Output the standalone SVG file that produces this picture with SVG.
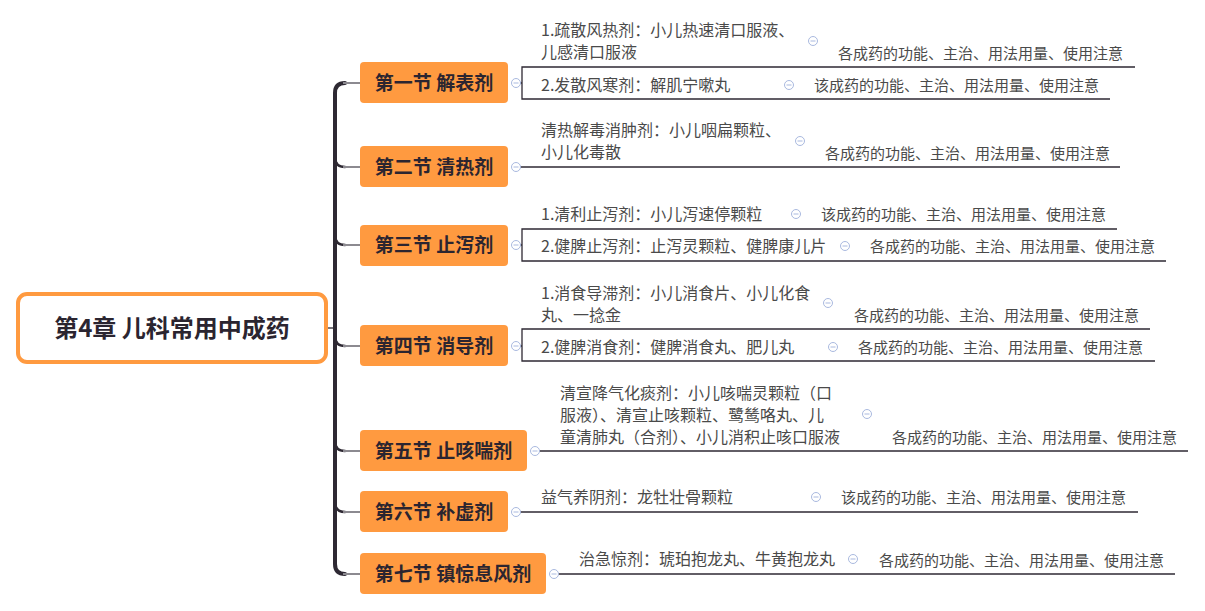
<svg xmlns="http://www.w3.org/2000/svg" width="1205" height="611" viewBox="0 0 1205 611">
<style>
.root{fill:#fff;stroke:#ff9a40;stroke-width:4}
.rt{font-family:"Noto Sans CJK SC","Noto Sans",sans-serif;font-weight:bold;font-size:24px;fill:#2b2530}
.sec{fill:#ff9a40}
.st{font-family:"Noto Sans CJK SC","Noto Sans",sans-serif;font-weight:bold;font-size:19px;fill:#2b2530;text-anchor:middle}
.ct{font-family:"Noto Sans CJK SC","Noto Sans",sans-serif;font-size:16px;fill:#4a4a4a}
.gt{font-family:"Noto Sans CJK SC","Noto Sans",sans-serif;font-size:15px;fill:#4a4a4a}
.trunk{fill:none;stroke:#2e2933;stroke-width:4;stroke-linecap:round}
.br{fill:none;stroke:#8c8a90;stroke-width:2}
.ul{fill:none;stroke:#2e2933;stroke-width:1.3}
</style>
<defs>
<g id="col"><circle r="4.5" fill="#ffffff" stroke="#a9b9df" stroke-width="1"/><line x1="-2.5" y1="0" x2="2.5" y2="0" stroke="#a9b9df" stroke-width="1"/></g>
</defs>
<g id="connectors">
<line x1="327" y1="328" x2="335" y2="328" class="ul"/>
<path class="trunk" d="M 345 83 Q 335 83 335 93 V 564 Q 335 574 345 574"/>
<path class="trunk" style="stroke-width:2.5" d="M 335 157 Q 335 167 345 167 M 335 235 Q 335 245 345 245 M 335 336 Q 335 346 345 346 M 335 441 Q 335 451 345 451 M 335 502 Q 335 512 345 512"/>
<path class="br" d="M 343 83 H 360 M 343 167 H 360 M 343 245 H 360 M 343 346 H 360 M 343 451 H 360 M 343 512 H 360 M 343 574 H 360"/>
<path class="ul" d="M 516 83 H 522 M 1135 67 H 522 V 99 H 1110"/>
<path class="ul" d="M 516 167 H 1120"/>
<path class="ul" d="M 516 245 H 522 M 1117 229 H 522 V 261 H 1166"/>
<path class="ul" d="M 516 346 H 522 M 1150 329 H 522 V 361 H 1155"/>
<path class="ul" d="M 535 451 H 1188"/>
<path class="ul" d="M 516 512 H 1138"/>
<path class="ul" d="M 554 574 H 1175"/>
</g>
<g id="root">
<rect class="root" x="18" y="294" width="308" height="68" rx="9"/>
<text class="rt" x="172" y="336.5" text-anchor="middle">第4章 儿科常用中成药</text>
</g>
<g id="s1">
<rect class="sec" x="360" y="62" width="148" height="41" rx="4"/>
<text class="st" x="434" y="90">第一节 解表剂</text>
</g>
<g id="s2">
<rect class="sec" x="360" y="146" width="148" height="41" rx="4"/>
<text class="st" x="434" y="174">第二节 清热剂</text>
</g>
<g id="s3">
<rect class="sec" x="360" y="225" width="148" height="41" rx="4"/>
<text class="st" x="434" y="252">第三节 止泻剂</text>
</g>
<g id="s4">
<rect class="sec" x="360" y="325" width="148" height="41" rx="4"/>
<text class="st" x="434" y="353">第四节 消导剂</text>
</g>
<g id="s5">
<rect class="sec" x="360" y="430" width="167" height="41" rx="4"/>
<text class="st" x="443.5" y="458">第五节 止咳喘剂</text>
</g>
<g id="s6">
<rect class="sec" x="360" y="491" width="148" height="41" rx="4"/>
<text class="st" x="434" y="519">第六节 补虚剂</text>
</g>
<g id="s7">
<rect class="sec" x="360" y="553" width="186" height="41" rx="4"/>
<text class="st" x="453" y="581">第七节 镇惊息风剂</text>
</g>
<g id="icons">
<use href="#col" x="516" y="83"/>
<use href="#col" x="516" y="167"/>
<use href="#col" x="516" y="245"/>
<use href="#col" x="516" y="346"/>
<use href="#col" x="535" y="451"/>
<use href="#col" x="516" y="512"/>
<use href="#col" x="554" y="574"/>
<use href="#col" x="813" y="41"/>
<use href="#col" x="789" y="85"/>
<use href="#col" x="800" y="141"/>
<use href="#col" x="796" y="214"/>
<use href="#col" x="845" y="246"/>
<use href="#col" x="828" y="303"/>
<use href="#col" x="833" y="347"/>
<use href="#col" x="867" y="414"/>
<use href="#col" x="816" y="497"/>
<use href="#col" x="853" y="559"/>
</g>
<g id="s1c1">
<text class="ct" x="541" y="35.5">1.疏散风热剂：小儿热速清口服液、</text>
<text class="ct" x="541" y="57.5">儿感清口服液</text>
</g>
<g id="s1c1g"><text class="gt" x="838" y="58.5">各成药的功能、主治、用法用量、使用注意</text></g>
<g id="s1c2"><text class="ct" x="541" y="90.5">2.发散风寒剂：解肌宁嗽丸</text></g>
<g id="s1c2g"><text class="gt" x="814" y="90.5">该成药的功能、主治、用法用量、使用注意</text></g>
<g id="s2c1">
<text class="ct" x="541" y="135.5">清热解毒消肿剂：小儿咽扁颗粒、</text>
<text class="ct" x="541" y="157.5">小儿化毒散</text>
</g>
<g id="s2c1g"><text class="gt" x="825" y="158.5">各成药的功能、主治、用法用量、使用注意</text></g>
<g id="s3c1"><text class="ct" x="541" y="219.5">1.清利止泻剂：小儿泻速停颗粒</text></g>
<g id="s3c1g"><text class="gt" x="821" y="219.5">该成药的功能、主治、用法用量、使用注意</text></g>
<g id="s3c2"><text class="ct" x="541" y="251.5">2.健脾止泻剂：止泻灵颗粒、健脾康儿片</text></g>
<g id="s3c2g"><text class="gt" x="870" y="251.5">各成药的功能、主治、用法用量、使用注意</text></g>
<g id="s4c1">
<text class="ct" x="541" y="298.5">1.消食导滞剂：小儿消食片、小儿化食</text>
<text class="ct" x="541" y="320.5">丸、一捻金</text>
</g>
<g id="s4c1g"><text class="gt" x="854" y="320.5">各成药的功能、主治、用法用量、使用注意</text></g>
<g id="s4c2"><text class="ct" x="541" y="352.5">2.健脾消食剂：健脾消食丸、肥儿丸</text></g>
<g id="s4c2g"><text class="gt" x="858" y="352.5">各成药的功能、主治、用法用量、使用注意</text></g>
<g id="s5c1">
<text class="ct" x="560" y="398.5">清宣降气化痰剂：小儿咳喘灵颗粒（口</text>
<text class="ct" x="560" y="420.5">服液）、清宣止咳颗粒、鹭鸶咯丸、儿</text>
<text class="ct" x="560" y="442.5">童清肺丸（合剂）、小儿消积止咳口服液</text>
</g>
<g id="s5c1g"><text class="gt" x="892" y="442.5">各成药的功能、主治、用法用量、使用注意</text></g>
<g id="s6c1"><text class="ct" x="541" y="502.5">益气养阴剂：龙牡壮骨颗粒</text></g>
<g id="s6c1g"><text class="gt" x="841" y="502.5">该成药的功能、主治、用法用量、使用注意</text></g>
<g id="s7c1"><text class="ct" x="579" y="564.5">治急惊剂：琥珀抱龙丸、牛黄抱龙丸</text></g>
<g id="s7c1g"><text class="gt" x="879" y="565.5">各成药的功能、主治、用法用量、使用注意</text></g>
</svg>
